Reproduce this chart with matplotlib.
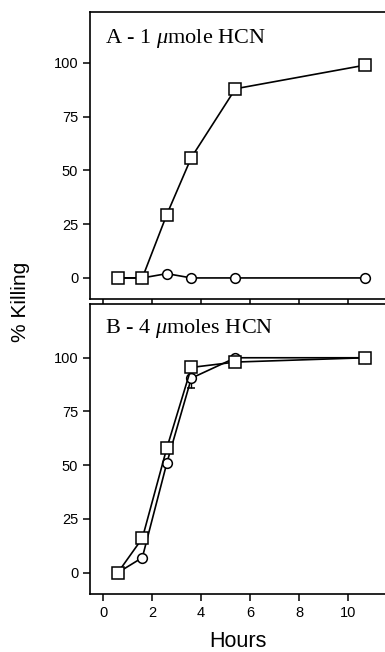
import matplotlib

matplotlib.use("Agg")
import matplotlib.pyplot as plt
import numpy as np

# Panel A - 1 umole HCN
hours_a = [0.6, 1.6, 2.6, 3.6, 5.4, 10.7]
sq_a = [0, 0, 29.5, 56, 88, 99]
circ_a = [0, 0, 2, 0, 0, 0]

# Panel B - 4 umoles HCN
hours_b = [0.6, 1.6, 2.6, 3.6, 5.4, 10.7]
sq_b = [0, 16, 58, 95.5, 98, 100]
circ_b = [0, 7, 51, 90.5, 100, 100]
circ_b_err_lo = [0, 0, 0, 4.5, 0, 0]

xticks = [0, 2, 4, 6, 8, 10]
yticks = [0, 25, 50, 75, 100]
titles = ["A - 1 $\\mu$mole HCN", "B - 4 $\\mu$moles HCN"]

plt.rcParams["font.family"] = ["Liberation Sans", "DejaVu Sans"]
plt.rcParams["mathtext.fontset"] = "custom"
plt.rcParams["mathtext.it"] = "Liberation Serif:italic"
plt.rcParams["mathtext.rm"] = "Liberation Serif"

fig = plt.figure(figsize=(3.85, 6.52), dpi=100)
ax_a = fig.add_axes([0.234, 0.5414, 0.766, 0.4402])
ax_b = fig.add_axes([0.234, 0.089, 0.766, 0.4447])

mk = dict(color="black", lw=1.2, mfc="white", mec="black", mew=1.1, clip_on=False)

ax_a.plot(hours_a, circ_a, marker="o", ms=7, zorder=3, **mk)
ax_a.plot(hours_a, sq_a, marker="s", ms=8, zorder=4, **mk)

ax_b.errorbar(hours_b, circ_b, yerr=[circ_b_err_lo, [0] * 6], marker="o",
              ms=7, zorder=3, capsize=3, elinewidth=1, **mk)
ax_b.plot(hours_b, sq_b, marker="s", ms=8, zorder=4, **mk)

for ax, title, ylim, ty in [(ax_a, titles[0], (-9.8, 123.7), 0.909),
                            (ax_b, titles[1], (-9.9, 125), 0.917)]:
    ax.set_xlim(-0.53, 11.5)
    ax.set_ylim(*ylim)
    ax.set_yticks(yticks)
    ax.set_xticks(xticks)
    ax.spines["right"].set_visible(False)
    for s in ["left", "top", "bottom"]:
        ax.spines[s].set_linewidth(1.2)
    ax.tick_params(direction="out", length=5, width=1.1, labelsize=10.5)
    ax.text(0.05, ty, title, transform=ax.transAxes, ha="left", va="center",
            fontsize=16, family="Liberation Serif")

ax_a.tick_params(axis="x", labelbottom=False, length=6)
ax_b.set_xlabel("Hours", fontsize=15.5, labelpad=8)
fig.text(0.052, 0.537, "% Killing", rotation=90, ha="center", va="center",
         fontsize=15)

fig.savefig("out.png", dpi=100)
